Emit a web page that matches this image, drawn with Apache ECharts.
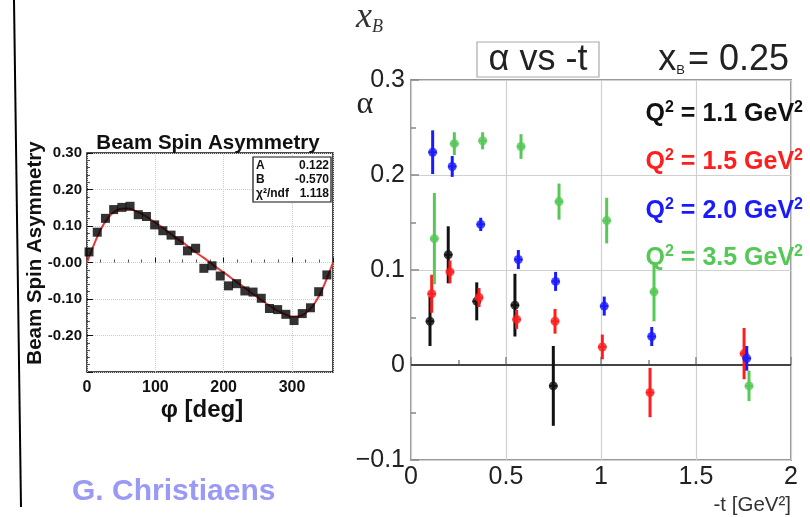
<!DOCTYPE html>
<html><head><meta charset="utf-8">
<script src="https://cdn.jsdelivr.net/npm/echarts@6.0.0/dist/echarts.min.js"></script>
<style>html,body{margin:0;padding:0;background:#fff}#c{width:810px;height:517px}</style>
</head><body><div id="c"></div>
<script>
// ---- Left panel: Beam Spin Asymmetry vs phi ----
const bsaPhi = [3,15,27,39,51,63,75,87,99,111,123,135,147,159,171,183,195,207,219,231,243,255,267,279,291,303,315,327,339,351];
const bsaVal = [0.029,0.083,0.121,0.145,0.151,0.154,0.131,0.126,0.103,0.087,0.075,0.060,0.032,0.039,-0.016,-0.009,-0.037,-0.064,-0.058,-0.078,-0.081,-0.098,-0.126,-0.129,-0.142,-0.159,-0.140,-0.124,-0.080,-0.034];
const fitPhi = [0,10,20,30,40,50,60,70,80,90,100,110,120,130,140,150,160,170,180,190,200,210,220,230,240,250,260,270,280,290,300,310,320,330,340,350,360];
const fitVal = [0,0.048,0.090,0.120,0.139,0.147,0.148,0.142,0.133,0.122,0.109,0.096,0.082,0.068,0.055,0.041,0.027,0.014,0,-0.014,-0.027,-0.041,-0.055,-0.068,-0.082,-0.096,-0.109,-0.122,-0.133,-0.142,-0.148,-0.147,-0.139,-0.120,-0.090,-0.048,0];
const leftXTicks = [0,100,200,300];
const fitStats = [['A','0.122'],['B','-0.570'],['χ²/ndf','1.118']];

// ---- Right panel: alpha vs -t ----
const q11_t = [0.100,0.196,0.346,0.547,0.749];
const q11_a = [0.046,0.116,0.067,0.063,-0.022];
const q11_e = [0.026,0.030,0.020,0.033,0.042];
const q15_t = [0.109,0.205,0.358,0.556,0.758,1.007,1.258,1.753];
const q15_a = [0.075,0.098,0.071,0.048,0.046,0.019,-0.029,0.012];
const q15_e = [0.020,0.012,0.010,0.010,0.013,0.013,0.026,0.027];
const q20_t = [0.114,0.217,0.367,0.565,0.761,1.017,1.267,1.767];
const q20_a = [0.224,0.209,0.148,0.111,0.088,0.062,0.030,0.007];
const q20_e = [0.023,0.011,0.007,0.010,0.010,0.010,0.010,0.013];
const q35_t = [0.123,0.228,0.377,0.579,0.779,1.030,1.279,1.779];
const q35_a = [0.133,0.233,0.236,0.230,0.172,0.152,0.077,-0.022];
const q35_e = [0.048,0.012,0.009,0.013,0.019,0.024,0.031,0.016];
const legendLabels = ['1.1','1.5','2.0','3.5'];
const rightXTicks = [0,0.5,1,1.5,2];
const rightYTicks = [-0.1,0,0.1,0.2,0.3];

const colBlack='#111111', colRed='#ff1e1e', colBlue='#1a1aff', colGreen='#55c855';
const seriesDefs = [
  {t:q11_t,a:q11_a,e:q11_e,c:colBlack,name:legendLabels[0]},
  {t:q15_t,a:q15_a,e:q15_e,c:colRed,name:legendLabels[1]},
  {t:q20_t,a:q20_a,e:q20_e,c:colBlue,name:legendLabels[2]},
  {t:q35_t,a:q35_a,e:q35_e,c:colGreen,name:legendLabels[3]}
];

const chart = echarts.init(document.getElementById('c'), null, {renderer:'canvas'});
const F = '"Liberation Sans", Arial, sans-serif';

const series = [];
series.push({type:'line', xAxisIndex:0, yAxisIndex:0, data: fitPhi.map((p,i)=>[p,fitVal[i]]),
  smooth:true, showSymbol:false, lineStyle:{color:'#e23a3a', width:2}, z:3, silent:true});
series.push({type:'scatter', xAxisIndex:0, yAxisIndex:0, data: bsaPhi.map((p,i)=>[p,bsaVal[i]]),
  symbol:'rect', symbolSize:9, itemStyle:{color:'#000'}, z:4, silent:true});

series.push({type:'line', xAxisIndex:1, yAxisIndex:1, data:[], silent:true,
  markLine:{silent:true, symbol:['none','none'], label:{show:false},
    lineStyle:{color:'#444', width:2, type:'solid'}, data:[{yAxis:0}]}});

seriesDefs.forEach((s,k)=>{
  const d = s.t.map((t,i)=>[t,s.a[i],s.e[i]]);
  series.push({type:'custom', xAxisIndex:1, yAxisIndex:1, data:d, z:5+k, silent:true,
    encode:{x:0,y:1},
    renderItem:(params, api)=>{
      const x=api.value(0), y=api.value(1), e=api.value(2);
      const p1=api.coord([x,y-e]), p2=api.coord([x,y+e]), pc=api.coord([x,y]);
      return {type:'group', children:[
        {type:'line', shape:{x1:p1[0],y1:p1[1],x2:p2[0],y2:p2[1]}, style:{stroke:s.c, lineWidth:3}},
        {type:'line', shape:{x1:pc[0]-4,y1:pc[1],x2:pc[0]+4,y2:pc[1]}, style:{stroke:s.c, lineWidth:2}}
      ]};
    }});
  series.push({type:'scatter', xAxisIndex:1, yAxisIndex:1, data:d.map(v=>[v[0],v[1]]),
    symbol:'circle', symbolSize:9, itemStyle:{color:s.c}, z:5+k, silent:true});
});

const legendY = [114,162,211,258];
const legendCols = [colBlack,colRed,colBlue,colGreen];
const graphics = [
  {type:'line', shape:{x1:14,y1:0,x2:21,y2:507}, style:{stroke:'#000', lineWidth:2}},
  {type:'text', style:{text:'Beam Spin Asymmetry', x:208, y:143, align:'center', verticalAlign:'middle', font:'bold 20.5px '+F, fill:'#111'}},
  {type:'text', rotation:Math.PI/2, x:35, y:253, style:{text:'Beam Spin Asymmetry', x:0, y:0, align:'center', verticalAlign:'middle', font:'bold 20.5px '+F, fill:'#111'}},
  {type:'text', style:{text:'φ [deg]', x:202, y:410, align:'center', verticalAlign:'middle', font:'bold 24px '+F, fill:'#111'}},
  {type:'rect', shape:{x:253, y:157, width:78, height:45}, style:{fill:'#fff', stroke:'#111', lineWidth:1.2}, z:10},
  {type:'text', style:{text:'G. Christiaens', x:72, y:492, align:'left', verticalAlign:'middle', font:'bold 30px '+F, fill:'#9a9af5'}},
  {type:'text', style:{text:'{x|x}{b|B}', x:356, y:18, align:'left', verticalAlign:'middle',
    rich:{x:{font:'italic 36px "Liberation Serif", serif', fill:'#333'}, b:{font:'italic 18px "Liberation Serif", serif', fill:'#333', verticalAlign:'bottom', padding:[14,0,0,0]}}}},
  {type:'rect', shape:{x:477, y:42, width:122, height:35}, style:{fill:'#fff', stroke:'#aaa', lineWidth:1.2}},
  {type:'text', style:{text:'α vs -t', x:538, y:60, align:'center', verticalAlign:'middle', font:'36px '+F, fill:'#222'}},
  {type:'text', style:{text:'{a|x}{b|B}{a|= 0.25}', x:789, y:60, align:'right', verticalAlign:'middle',
    rich:{a:{font:'36px '+F, fill:'#222'}, b:{font:'13px '+F, fill:'#222', padding:[20,3,0,0]}}}},
  {type:'text', style:{text:'α', x:365, y:105, align:'center', verticalAlign:'middle', font:'32px "Liberation Serif", serif', fill:'#222'}},
  {type:'text', style:{text:'-t [GeV²]', x:791, y:505, align:'right', verticalAlign:'middle', font:'20.5px '+F, fill:'#333'}}
];
fitStats.forEach((r,i)=>{
  graphics.push({type:'text', z:11, style:{text:r[0], x:256, y:166+i*14, align:'left', verticalAlign:'middle', font:'bold 12px '+F, fill:'#111'}});
  graphics.push({type:'text', z:11, style:{text:r[1], x:329, y:166+i*14, align:'right', verticalAlign:'middle', font:'bold 12px '+F, fill:'#111'}});
});
legendLabels.forEach((l,i)=>{
  graphics.push({type:'text', z:20, style:{text:'{m|Q}{s|2}{m| = '+l+' GeV}{s|2}', x:803, y:legendY[i], align:'right', verticalAlign:'middle',
    rich:{m:{font:'bold 25px '+F, fill:legendCols[i]}, s:{font:'bold 16px '+F, fill:legendCols[i], padding:[0,0,13,0]}}}});
});

chart.setOption({
  animation:false,
  backgroundColor:'#fff',
  grid:[
    {left:87, top:153, width:246, height:219, show:true, borderColor:'#111', borderWidth:1.5, backgroundColor:'transparent'},
    {left:411, top:80, width:380, height:380, show:true, borderColor:'#999', borderWidth:2, backgroundColor:'transparent'}
  ],
  xAxis:[
    {gridIndex:0, type:'value', min:0, max:360, interval:100,
      axisLine:{show:false}, axisTick:{show:true, inside:true, length:5, lineStyle:{color:'#111'}},
      minorTick:{show:true, splitNumber:5, length:3, lineStyle:{color:'#555'}},
      axisLabel:{showMaxLabel:false, margin:8, color:'#111', fontWeight:'bold', fontSize:16, fontFamily:F},
      splitLine:{show:true, lineStyle:{color:'#ccc', type:'dotted'}}},
    {gridIndex:1, type:'value', min:0, max:2, interval:0.5,
      axisLine:{show:false}, axisTick:{show:true, inside:true, length:8, lineStyle:{color:'#888', width:1.5}},
      minorTick:{show:true, splitNumber:2, length:5, lineStyle:{color:'#888', width:1.5}},
      axisLabel:{margin:5, color:'#222', fontSize:25, fontFamily:F, formatter:v=>String(v)},
      splitLine:{show:true, lineStyle:{color:'#d0d0d0', width:1.2}}}
  ],
  yAxis:[
    {gridIndex:0, type:'value', min:-0.3, max:0.3, interval:0.1,
      axisLine:{show:false}, axisTick:{show:true, inside:true, length:6, lineStyle:{color:'#111'}},
      minorTick:{show:true, splitNumber:5, length:3, lineStyle:{color:'#555'}},
      axisLabel:{margin:5, color:'#111', fontWeight:'bold', fontSize:15, fontFamily:F,
        formatter:v=>{ if (v < -0.25) return ''; if (Math.abs(v) < 1e-6) return '-0.00'; return v.toFixed(2);} },
      splitLine:{show:true, lineStyle:{color:'#ccc', type:'dotted'}}},
    {gridIndex:1, type:'value', min:-0.1, max:0.3, interval:0.1,
      axisLine:{show:false}, axisTick:{show:true, inside:true, length:8, lineStyle:{color:'#888', width:1.5}},
      minorTick:{show:true, splitNumber:2, length:5, lineStyle:{color:'#888', width:1.5}},
      axisLabel:{margin:6, color:'#222', fontSize:25, fontFamily:F,
        formatter:v=>{ if (Math.abs(v) < 1e-6) return '0'; return (v<0?'−':'') + Math.abs(v).toFixed(1);} },
      splitLine:{show:true, lineStyle:{color:'#d0d0d0', width:1.2}}}
  ],
  series:series,
  graphic:{elements:graphics}
});
</script></body></html>
